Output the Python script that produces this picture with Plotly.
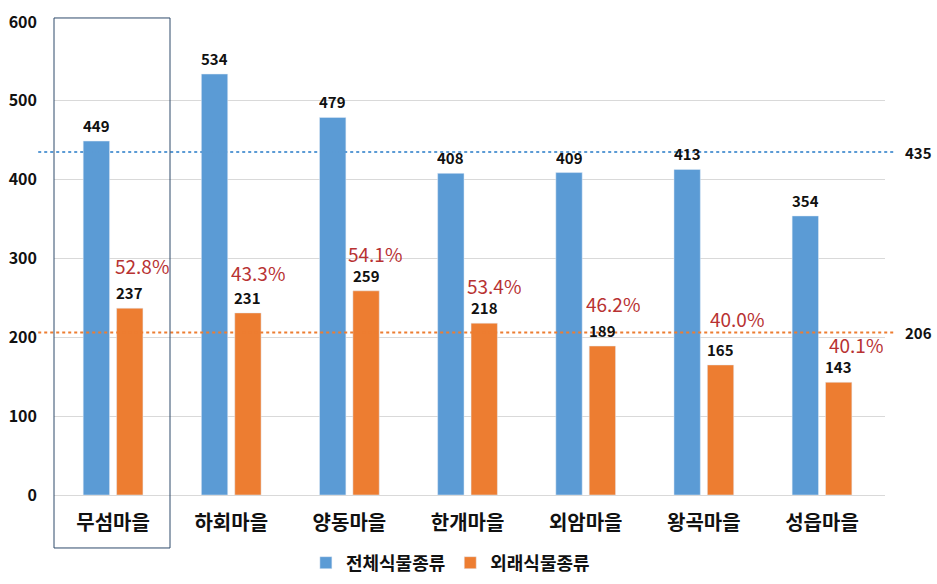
import plotly.graph_objects as go

villages = ["무섬마을", "하회마을", "양동마을", "한개마을", "외암마을", "왕곡마을", "성읍마을"]
total_species = [449, 534, 479, 408, 409, 413, 354]
alien_species = [237, 231, 259, 218, 189, 165, 143]
alien_ratio = ["52.8%", "43.3%", "54.1%", "53.4%", "46.2%", "40.0%", "40.1%"]
avg_total = 435
avg_alien = 206
y_ticks = [0, 100, 200, 300, 400, 500, 600]

# label placement (styling)
ratio_label_y = [292, 283, 307, 267, 244, 225, 192]
ratio_label_dx = [0, -2, -3, -3, -2, 4, 5]

BLUE = "#5B9BD5"
ORANGE = "#ED7D31"
RED = "#B83232"
FONT = "Noto Sans CJK KR"

fig = go.Figure()
fig.add_trace(go.Bar(x=villages, y=total_species, name="전체식물종류",
                     marker_color=BLUE, offsetgroup="a"))
fig.add_trace(go.Bar(x=villages, y=alien_species, name="외래식물종류",
                     marker_color=ORANGE, offsetgroup="b"))

# value labels above bars
BAR_OFF = 0.141  # half slot spacing in category units
for i, v in enumerate(villages):
    fig.add_annotation(x=i - BAR_OFF, y=total_species[i], text=str(total_species[i]),
                       showarrow=False, yanchor="bottom", yshift=5, height=18,
                       font=dict(family=FONT, size=15, color="#111", weight="bold"))
    fig.add_annotation(x=i + BAR_OFF, y=alien_species[i], text=str(alien_species[i]),
                       showarrow=False, yanchor="bottom", yshift=5, height=18,
                       font=dict(family=FONT, size=15, color="#111", weight="bold"))

for v, txt, yy, dx in zip(villages, alien_ratio, ratio_label_y, ratio_label_dx):
    fig.add_annotation(x=v, y=yy, text=txt, showarrow=False, xanchor="left",
                       yanchor="middle", xshift=dx, height=22,
                       font=dict(family=FONT, size=19, color=RED))

# average reference lines
for val, col in [(avg_total, BLUE), (avg_alien, ORANGE)]:
    fig.add_shape(type="line", xref="paper", yref="y", x0=-0.019, x1=1.012,
                  y0=val, y1=val, line=dict(color=col, width=2, dash="dot"),
                  layer="above")
    fig.add_annotation(xref="paper", yref="y", x=1.022, y=val, text=str(val),
                       showarrow=False, xanchor="left", yanchor="middle",
                       font=dict(family=FONT, size=15, color="#111", weight="bold"))

# highlight box around first village
fig.add_shape(type="rect", xref="paper", yref="paper", x0=0.0, x1=0.1396,
              y0=-0.112, y1=1.0085, line=dict(color="#2E4A6B", width=1),
              fillcolor="rgba(0,0,0,0)")

fig.update_layout(
    width=937, height=584,
    margin=dict(l=54, r=52, t=22, b=89, autoexpand=False),
    plot_bgcolor="white", paper_bgcolor="white",
    barmode="group", bargap=0.435, bargroupgap=0.21,
    font=dict(family=FONT, color="#111"),
    showlegend=True,
    legend=dict(orientation="h", x=0.477, xanchor="center",
                yref="container", y=0.036, yanchor="middle",
                font=dict(family=FONT, size=18, weight="bold"),
                itemwidth=30, tracegroupgap=0),
    xaxis=dict(showline=False, ticks="", ticklabelstandoff=14, automargin=False,
               tickfont=dict(family=FONT, size=20, weight="bold", color="#111")),
    yaxis=dict(range=[0, 600], tickvals=y_ticks, showgrid=True, automargin=False,
               gridcolor="#D9D9D9", gridwidth=1, zeroline=True,
               zerolinecolor="#D9D9D9", zerolinewidth=1, showline=False,
               ticks="", ticklabelstandoff=16,
               tickfont=dict(family=FONT, size=16, weight="bold", color="#111")),
)

fig.write_html("out.html")
